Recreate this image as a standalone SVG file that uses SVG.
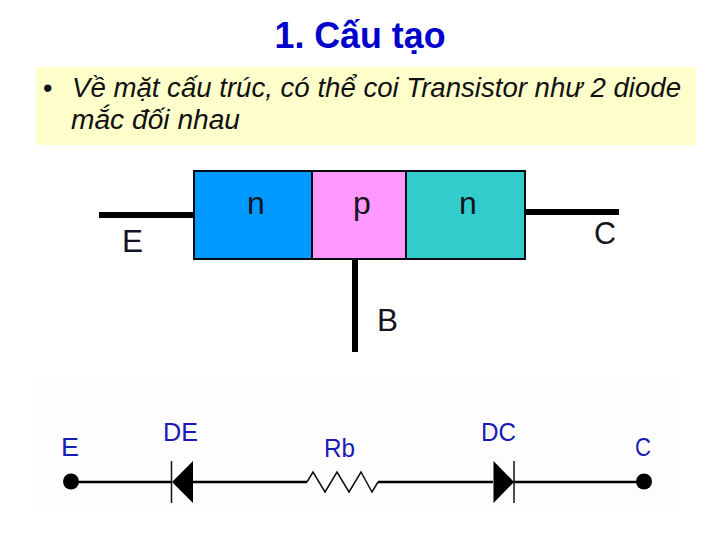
<svg xmlns="http://www.w3.org/2000/svg" width="720" height="540" viewBox="0 0 720 540">
<style>
text{font-family:"Liberation Sans",Arial,sans-serif}
.t{font-size:27px;font-style:italic;fill:#111}
.k{font-size:32px;fill:#14141e}
.b{font-size:26px;fill:#1a1ab4}
.w{stroke:#000;stroke-width:6;fill:none}
.e{stroke:#000;stroke-width:2.6;fill:none}
.r{stroke:#111;stroke-width:1.5;fill:none}
.c{stroke:#0a0a14;stroke-width:2}
</style>
<rect width="720" height="540" fill="#fff"/>
<rect x="37" y="381" width="640" height="130" fill="#fdfdfd"/>
<g id="title"><text x="360" y="48" text-anchor="middle" font-size="36" font-weight="700" fill="#0000cc" textLength="171" lengthAdjust="spacingAndGlyphs">1. Cấu tạo</text></g>
<g id="note">
<rect x="36" y="67" width="660" height="78" fill="#ffffcc"/>
<text x="43" y="97" font-size="27" fill="#111">•</text>
<text class="t" x="72" y="97" textLength="609" lengthAdjust="spacingAndGlyphs">Về mặt cấu trúc, có thể coi Transistor như 2 diode</text>
<text class="t" x="71" y="129" textLength="169" lengthAdjust="spacingAndGlyphs">mắc đối nhau</text>
</g>
<g id="connectors">
<path class="w" d="M99 215H194M525 212H619M355 258V352"/>
<path class="e" d="M71 482H171M193 482H307M378 482H493M514 482H644"/>
<path class="r" d="M307 482L313 472L325 492L337 472L349 492L361 472L372 492L378 482"/>
</g>
<g id="block-n1"><rect class="c" x="194" y="171" width="118" height="88" fill="#0099ff"/><text class="k" x="256" y="214" text-anchor="middle">n</text></g>
<g id="block-p"><rect class="c" x="312" y="171" width="94" height="88" fill="#ff99ff"/><text class="k" x="362" y="214" text-anchor="middle">p</text></g>
<g id="block-n2"><rect class="c" x="406" y="171" width="119" height="88" fill="#33cccc"/><text class="k" x="468" y="214" text-anchor="middle">n</text></g>
<g id="label-E"><text class="k" x="122" y="252" textLength="21" lengthAdjust="spacingAndGlyphs">E</text></g>
<g id="label-C"><text class="k" x="594" y="244" textLength="22" lengthAdjust="spacingAndGlyphs">C</text></g>
<g id="label-B"><text class="k" x="377" y="331" textLength="21" lengthAdjust="spacingAndGlyphs">B</text></g>
<g id="node-E"><circle cx="71" cy="481.5" r="8" fill="#000"/><text class="b" x="61" y="456" textLength="18" lengthAdjust="spacingAndGlyphs">E</text></g>
<g id="node-DE"><path d="M193 461V503L172 482Z" fill="#000"/><path class="r" d="M171.500 461V503"/><text class="b" x="163" y="441" textLength="35" lengthAdjust="spacingAndGlyphs">DE</text></g>
<g id="node-Rb"><text class="b" x="324" y="457" textLength="31" lengthAdjust="spacingAndGlyphs">Rb</text></g>
<g id="node-DC"><path d="M493.500 461V503L514 482Z" fill="#000"/><path class="r" d="M514 461V503"/><text class="b" x="481" y="441" textLength="35" lengthAdjust="spacingAndGlyphs">DC</text></g>
<g id="node-C"><circle cx="644" cy="481.500" r="8" fill="#000"/><text class="b" x="635" y="456" textLength="16" lengthAdjust="spacingAndGlyphs">C</text></g>
</svg>
